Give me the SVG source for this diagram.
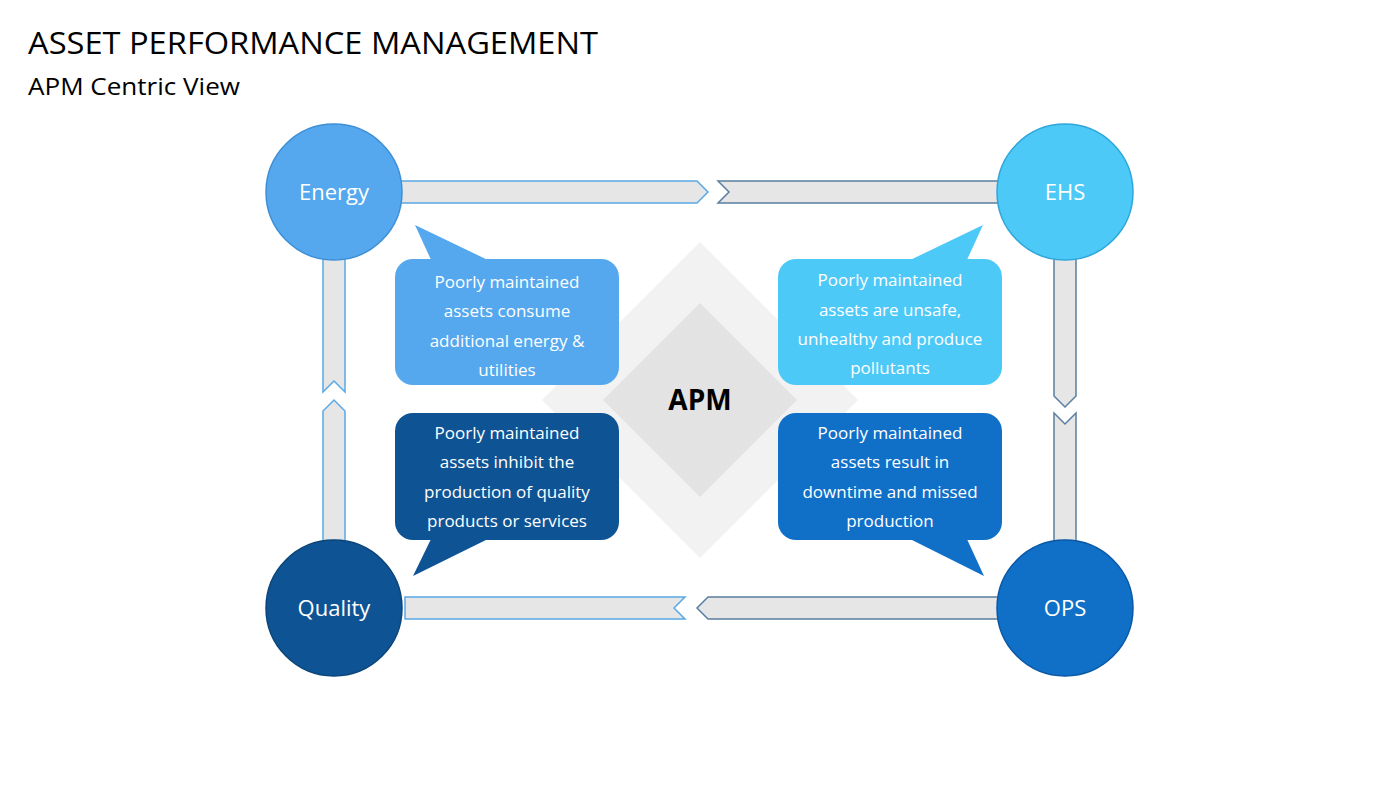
<svg xmlns="http://www.w3.org/2000/svg" width="1400" height="788" viewBox="0 0 1400 788">
<style>
text{font-family:"Open Sans","Liberation Sans",sans-serif}
.bar{fill:#e6e6e6;stroke:#5aa9e6;stroke-width:1.5}
.bar2{fill:#e6e6e6;stroke:#5a7fa0;stroke-width:1.5}
.lbl{fill:#fff;font-size:22px;text-anchor:middle}
.ct{fill:#fff;font-size:17px;text-anchor:middle}
</style>
<rect width="1400" height="788" fill="#fff"/>
<text x="28" y="54" font-size="31" fill="#000" textLength="570" lengthAdjust="spacingAndGlyphs">ASSET PERFORMANCE MANAGEMENT</text>
<text x="28" y="95" font-size="23" fill="#000" textLength="212" lengthAdjust="spacingAndGlyphs">APM Centric View</text>
<g id="apm">
<polygon points="700,242 858,400 700,558 542,400" fill="#f2f2f2"/>
<polygon points="700,303 797,400 700,497 603,400" fill="#e3e3e3"/>
<text x="700" y="410" font-size="28" font-weight="bold" text-anchor="middle" fill="#000">APM</text>
</g>
<g id="connectors">
<polygon class="bar" points="395,181 697,181 708,192 697,203 395,203"/>
<polygon class="bar2" points="718,181 1000,181 1000,203 718,203 729,192"/>
<polygon class="bar2" points="1054,255 1076,255 1076,396 1065,407 1054,396"/>
<polygon class="bar2" points="1054,413 1065,424 1076,413 1076,545 1054,545"/>
<polygon class="bar2" points="1000,597 708,597 697,608 708,619 1000,619"/>
<polygon class="bar" points="685,597 405,597 405,619 685,619 674,608"/>
<polygon class="bar" points="323,545 323,411 334,400 345,411 345,545"/>
<polygon class="bar" points="323,255 345,255 345,392 334,381 323,392"/>
</g>
<g id="energy"><circle cx="334" cy="192" r="68" fill="#55a8ee" stroke="#3d8fd6" stroke-width="1.5"/><text class="lbl" x="334" y="200">Energy</text></g>
<g id="ehs"><circle cx="1065" cy="192" r="68" fill="#4dc9f8" stroke="#2ea6da" stroke-width="1.5"/><text class="lbl" x="1065" y="200">EHS</text></g>
<g id="quality"><circle cx="334" cy="608" r="68" fill="#0e5494" stroke="#0a4478" stroke-width="1.5"/><text class="lbl" x="334" y="616">Quality</text></g>
<g id="ops"><circle cx="1065" cy="608" r="68" fill="#1070c8" stroke="#0a58a4" stroke-width="1.5"/><text class="lbl" x="1065" y="616">OPS</text></g>
<g id="c-energy">
<rect x="395" y="259" width="224" height="126" rx="18" fill="#55a8ee"/>
<polygon points="415,225 432,262 492,262" fill="#55a8ee"/>
<text class="ct" x="507" y="288">Poorly maintained</text><text class="ct" x="507" y="317">assets consume</text><text class="ct" x="507" y="347">additional energy &amp;</text><text class="ct" x="507" y="376">utilities</text>
</g>
<g id="c-ehs">
<rect x="778" y="259" width="224" height="126" rx="18" fill="#4dc9f8"/>
<polygon points="983,225 966,262 906,262" fill="#4dc9f8"/>
<text class="ct" x="890" y="286">Poorly maintained</text><text class="ct" x="890" y="316">assets are unsafe,</text><text class="ct" x="890" y="345">unhealthy and produce</text><text class="ct" x="890" y="374">pollutants</text>
</g>
<g id="c-quality">
<rect x="395" y="413" width="224" height="127" rx="18" fill="#0e5494"/>
<polygon points="413,576 432,537 492,537" fill="#0e5494"/>
<text class="ct" x="507" y="439">Poorly maintained</text><text class="ct" x="507" y="468">assets inhibit the</text><text class="ct" x="507" y="498">production of quality</text><text class="ct" x="507" y="527">products or services</text>
</g>
<g id="c-ops">
<rect x="778" y="413" width="224" height="127" rx="18" fill="#1070c8"/>
<polygon points="984,576 966,537 906,537" fill="#1070c8"/>
<text class="ct" x="890" y="439">Poorly maintained</text><text class="ct" x="890" y="468">assets  result in</text><text class="ct" x="890" y="498">downtime and missed</text><text class="ct" x="890" y="527">production</text>
</g>
</svg>
